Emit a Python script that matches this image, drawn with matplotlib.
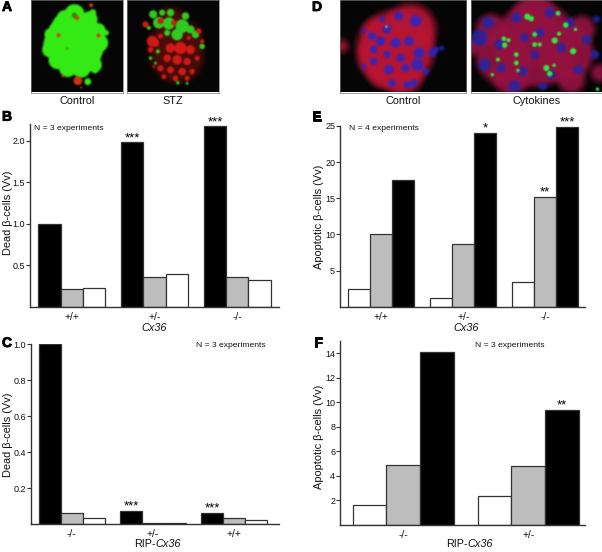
import matplotlib
matplotlib.use('Agg')
import matplotlib.pyplot as plt
import matplotlib.patheffects as pe
import numpy as np

plt.rcParams['font.family'] = ['Liberation Sans', 'DejaVu Sans']

W, H = 602, 552
INK = '#333333'
TXT = '#111111'

# bar values
b_groups = ['+/+', '+/-', '-/-']
b_black = [1.0, 1.98, 2.17]
b_gray = [0.22, 0.36, 0.36]
b_white = [0.23, 0.39, 0.32]
b_stars = ['', '***', '***']

e_groups = ['+/+', '+/-', '-/-']
e_white = [2.5, 1.25, 3.35]
e_gray = [10.0, 8.7, 15.2]
e_black = [17.5, 24.0, 24.9]
e_stars_gray = ['', '', '**']
e_stars_black = ['', '*', '***']

c_groups = ['-/-', '+/-', '+/+']
c_black = [1.0, 0.075, 0.065]
c_gray = [0.065, 0.01, 0.033]
c_white = [0.033, 0.01, 0.024]
c_stars = ['', '***', '***']

f_groups = ['-/-', '+/-']
f_white = [1.6, 2.35]
f_gray = [4.9, 4.85]
f_black = [14.1, 9.4]
f_stars = ['', '**']

# micrograph blobs, (x, y, radius) in 3x pixels of each image
a1_green = [(135, 130, 85), (120, 95, 62), (150, 160, 60), (85, 135, 48), (60, 105, 20), (55, 150, 22),
            (80, 180, 28), (110, 205, 26), (150, 205, 28), (190, 195, 22), (205, 130, 26), (200, 95, 24),
            (175, 60, 24), (130, 45, 30), (100, 55, 22), (80, 85, 20), (225, 100, 8), (192, 212, 8),
            (170, 245, 10), (65, 85, 10), (185, 40, 10)]
a1_red = [(140, 242, 13), (180, 18, 6), (95, 228, 4), (202, 108, 6), (82, 107, 6), (137, 55, 7), (150, 262, 3)]
a1_dark = [(130, 48, 8), (108, 147, 3)]
a2_base = [(150, 170, 78), (110, 130, 45), (170, 120, 55), (130, 70, 45)]
a2_green = [(78, 45, 12), (130, 40, 11), (165, 80, 20), (95, 70, 17), (125, 72, 18), (150, 105, 17), (175, 50, 11),
            (205, 105, 11), (225, 140, 8), (65, 85, 6), (92, 155, 6), (70, 175, 5), (85, 190, 4), (152, 248, 5),
            (180, 250, 4), (105, 40, 9), (190, 90, 12), (120, 100, 9), (80, 120, 5)]
a2_red = [(160, 145, 18), (75, 125, 16), (100, 65, 9), (140, 70, 8), (55, 75, 9), (85, 130, 11), (130, 145, 14),
          (190, 150, 13), (150, 180, 14), (120, 175, 11), (180, 185, 11), (100, 205, 9), (130, 210, 10),
          (165, 215, 11), (195, 215, 8), (210, 175, 7), (110, 230, 7), (145, 235, 8), (180, 235, 7),
          (70, 150, 8), (215, 95, 8), (225, 125, 6), (100, 110, 7), (185, 115, 6), (80, 200, 4)]
d1_red = [(165, 150, 115), (130, 170, 70), (210, 90, 75), (185, 225, 60), (95, 150, 30), (5, 140, 16), (110, 100, 40),
          (125, 225, 35)]
d1_blue = [(225, 65, 17), (175, 50, 13), (140, 90, 13), (120, 125, 14), (95, 110, 12), (100, 150, 11), (165, 130, 15),
           (205, 125, 14), (235, 160, 16), (275, 160, 12), (285, 150, 9), (303, 146, 7), (100, 185, 11), (145, 210, 14),
           (195, 205, 12), (230, 195, 18), (155, 250, 11), (200, 255, 11), (140, 165, 11), (180, 175, 12), (255, 215, 10),
           (70, 95, 7), (220, 250, 11), (70, 200, 7), (125, 60, 8)]
d1_green = [(138, 82, 4)]
d2_red = [(195, 135, 125), (100, 170, 85), (280, 160, 85), (190, 60, 70), (60, 90, 45), (330, 90, 40), (385, 220, 25),
          (5, 140, 25), (120, 230, 55), (300, 240, 40)]
d2_blue = [(25, 115, 24), (50, 70, 18), (40, 195, 18), (85, 135, 15), (135, 55, 15), (205, 100, 14), (235, 40, 15),
           (295, 70, 14), (345, 120, 14), (370, 165, 13), (320, 210, 14), (270, 145, 14), (190, 165, 13), (155, 215, 14),
           (130, 260, 18), (240, 225, 13), (375, 60, 10), (90, 205, 13), (160, 115, 13), (215, 260, 12)]
d2_green = [(168, 52, 9), (180, 58, 8), (260, 42, 7), (283, 77, 8), (312, 90, 5), (190, 105, 7), (98, 118, 7), (112, 122, 6),
            (100, 137, 8), (190, 135, 7), (205, 135, 6), (250, 123, 9), (263, 103, 6), (305, 155, 9), (80, 180, 6),
            (135, 165, 7), (135, 190, 7), (225, 205, 9), (235, 222, 8), (248, 197, 5), (63, 225, 5), (378, 268, 5), (140, 212, 5)]


def px(x, y):
    return x / W, 1 - y / H


def add_axes(left, top, right, bottom):
    return fig.add_axes([left / W, 1 - bottom / H, (right - left) / W, (bottom - top) / H])


def soft_layer(img, blobs, color, soft=5.0, mix=1.0):
    h, w = img.shape[:2]
    yy, xx = np.mgrid[0:h, 0:w]
    for x, y, r in blobs:
        a = np.clip((r - np.hypot(xx - x, yy - y)) / soft + 0.5, 0, 1)[..., None] * mix
        img[:] = img * (1 - a) + np.array(color) * a


def blur(img, n):
    k = np.ones(n) / n
    for axis in (0, 1):
        img = np.apply_along_axis(lambda m: np.convolve(m, k, mode='same'), axis, img)
    return img


def micrograph(left, right, size, layers, caption):
    ax = add_axes(left, 0, right, 92.5)
    img = np.zeros((size[1], size[0], 3)) + 0.02
    for blobs, color, soft, mix in layers:
        soft_layer(img, blobs, color, soft, mix)
    ax.imshow(blur(img, 5), aspect='auto', interpolation='bilinear')
    ax.set_xticks([])
    ax.set_yticks([])
    for s in ax.spines.values():
        s.set_color('#777777')
        s.set_linewidth(0.5)
    x, y = px((left + right) / 2, 101)
    fig.text(x, y, caption, ha='center', va='center', fontsize=7.8, color=TXT)


def bars(ax, series, width, offset, spacing):
    # series: list of (values, colour), drawn left to right in each group
    for k, (vals, col) in enumerate(series):
        pos = [offset + spacing * i + width * (k + 0.5) for i in range(len(vals))]
        ax.bar(pos, vals, width=width, color=col, edgecolor=INK, linewidth=0.9, zorder=2)


def style(ax, ticks, labels, groups, width, offset, spacing, nbars=3):
    for s in ['top', 'right']:
        ax.spines[s].set_visible(False)
    for s in ['left', 'bottom']:
        ax.spines[s].set_color(INK)
        ax.spines[s].set_linewidth(1.0)
    ax.set_yticks(ticks)
    ax.set_yticklabels(labels, fontsize=6.5, color=TXT)
    ax.tick_params(axis='y', length=3, width=0.8, pad=0.5, color=INK)
    ax.set_xticks([offset + spacing * i + width * nbars / 2 for i in range(len(groups))])
    ax.set_xticklabels(groups, fontsize=7.4, color=TXT)
    ax.tick_params(axis='x', length=0, pad=3.5)


def stars(ax, x_vals, y_vals, marks):
    for x, y, m in zip(x_vals, y_vals, marks):
        if m:
            ax.annotate(m, (x, y), xytext=(0, -1.2), textcoords='offset points', ha='center', va='bottom',
                        fontsize=9.5, color='black', annotation_clip=False)


fig = plt.figure(figsize=(W / 100, H / 100), dpi=100)

micrograph(30.7, 122.7, (276, 276), [(a1_green, (0.2, 0.92, 0.08), 7, 1), (a1_red, (0.9, 0.2, 0.08), 5, 0.9),
                                     (a1_dark, (0.25, 0.4, 0.1), 5, 0.8)], 'Control')
micrograph(127, 219, (276, 276), [(a2_base, (0.3, 0.05, 0.03), 25, 0.9), (a2_green, (0.18, 0.8, 0.12), 5, 1),
                                  (a2_red, (0.82, 0.1, 0.08), 5, 1)], 'STZ')
micrograph(340, 466.3, (379, 277), [(d1_red, (0.72, 0.08, 0.2), 30, 0.9), (d1_blue, (0.15, 0.15, 0.78), 9, 0.85),
                                    (d1_green, (0.5, 0.8, 0.6), 3, 0.8)], 'Control')
micrograph(471, 601.7, (392, 277), [(d2_red, (0.58, 0.07, 0.25), 25, 0.9), (d2_blue, (0.12, 0.15, 0.68), 11, 0.8),
                                    (d2_green, (0.2, 0.9, 0.25), 4, 1)], 'Cytokines')

# panel B
ax_b = add_axes(30, 124, 279, 306.8)
ax_b.set_xlim(0, 249)
ax_b.set_ylim(0, 2.2)
bars(ax_b, [(b_black, 'black'), (b_gray, '#bdbdbd'), (b_white, 'white')], 22.3, 8.3, 82.8)
style(ax_b, [0.5, 1.0, 1.5, 2.0], ['0.5', '1.0', '1.5', '2.0'], b_groups, 22.3, 8.3, 82.8)
stars(ax_b, [8.3 + 82.8 * i + 11.15 for i in range(3)], b_black, b_stars)

# panel E
ax_e = add_axes(340, 126, 585, 306.7)
ax_e.set_xlim(0, 245)
ax_e.set_ylim(0, 25)
bars(ax_e, [(e_white, 'white'), (e_gray, '#bdbdbd'), (e_black, 'black')], 22, 8.3, 82)
style(ax_e, [5, 10, 15, 20, 25], ['5', '10', '15', '20', '25'], e_groups, 22, 8.3, 82)
stars(ax_e, [8.3 + 82 * i + 33 for i in range(3)], e_gray, e_stars_gray)
stars(ax_e, [8.3 + 82 * i + 55 for i in range(3)], e_black, e_stars_black)

# panel C
ax_c = add_axes(30.7, 344.3, 279, 524.3)
ax_c.set_xlim(0, 248.3)
ax_c.set_ylim(0, 1.0)
bars(ax_c, [(c_black, 'black'), (c_gray, '#bdbdbd'), (c_white, 'white')], 22, 8, 81.3)
style(ax_c, [0.2, 0.4, 0.6, 0.8, 1.0], ['0.2', '0.4', '0.6', '0.8', '1.0'], c_groups, 22, 8, 81.3)
stars(ax_c, [8 + 81.3 * i + 11 for i in range(3)], c_black, c_stars)

# panel F
ax_f = add_axes(340, 340.7, 585, 525)
ax_f.set_xlim(0, 245)
ax_f.set_ylim(0, 15.04)
bars(ax_f, [(f_white, 'white'), (f_gray, '#bdbdbd'), (f_black, 'black')], 33.7, 12.7, 125)
style(ax_f, [2, 4, 6, 8, 10, 12, 14], ['2', '4', '6', '8', '10', '12', '14'], f_groups, 33.7, 12.7, 125)
stars(ax_f, [12.7 + 125 * i + 84.25 for i in range(2)], f_black, f_stars)

# axis titles and small notes, placed in figure pixels
for x, y, s in [(8.3, 213, 'Dead β-cells (Vv)'), (8.3, 435, 'Dead β-cells (Vv)'),
                (318.7, 216.7, 'Apoptotic β-cells (Vv)'), (318.7, 436.7, 'Apoptotic β-cells (Vv)')]:
    fx, fy = px(x, y)
    fig.text(fx, fy, s, rotation=90, ha='center', va='center', fontsize=7.9, color=TXT)

for x, y in [(154, 327.7), (465.7, 327.7)]:
    fx, fy = px(x, y)
    fig.text(fx, fy, 'Cx36', ha='center', va='center', fontsize=7.8, style='italic', color=TXT)

for x, y in [(155.7, 544), (467.3, 544)]:
    fx, fy = px(x, y)
    fig.text(fx, fy, 'RIP-', ha='right', va='center', fontsize=7.8, color=TXT)
    fig.text(fx, fy, 'Cx36', ha='left', va='center', fontsize=7.8, style='italic', color=TXT)

for x, y, s in [(34, 128.7, 'N = 3 experiments'), (348.7, 128.7, 'N = 4 experiments'),
                (196, 345.7, 'N = 3 experiments'), (475, 345.7, 'N = 3 experiments')]:
    fx, fy = px(x, y)
    fig.text(fx, fy, s, ha='left', va='center', fontsize=6.1, color=TXT)

for x, y, s in [(2, 7, 'A'), (2, 116.7, 'B'), (2, 343, 'C'), (312, 7, 'D'), (312, 116.7, 'E'), (313.7, 343, 'F')]:
    fx, fy = px(x, y)
    fig.text(fx, fy, s, ha='left', va='center', fontsize=10, fontweight='bold', color='black',
             path_effects=[pe.withStroke(linewidth=0.6, foreground='black')])

fig.savefig('out.png', dpi=100)
